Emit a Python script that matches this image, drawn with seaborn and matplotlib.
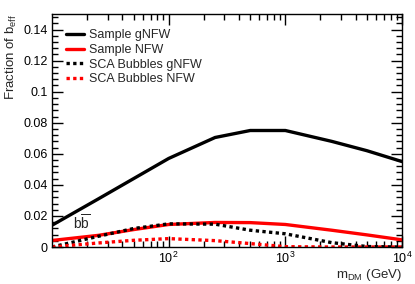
import matplotlib
matplotlib.use("Agg")
import matplotlib.pyplot as plt
import matplotlib.ticker as mticker
import numpy as np
import pandas as pd
import seaborn as sns

# masses (GeV) and fraction of b_eff per series
mass = [10, 25, 50, 100, 250, 500, 1000, 2500, 5000, 10000]
sample_gnfw = [0.014, 0.031, 0.044, 0.057, 0.0705, 0.075, 0.075, 0.068, 0.062, 0.055]
sample_nfw = [0.0042, 0.0075, 0.0112, 0.0145, 0.0158, 0.0157, 0.0145, 0.0108, 0.0078, 0.0046]
bubbles_gnfw = [0.0, 0.0069, 0.0119, 0.0149, 0.0147, 0.0108, 0.0085, 0.0028, 0.0003, 0.0]
bubbles_nfw = [0.0, 0.0026, 0.0043, 0.0054, 0.0041, 0.0022, 0.0002, 0.0, 0.0, 0.0]

series = ["Sample gNFW", "Sample NFW", "SCA Bubbles gNFW", "SCA Bubbles NFW"]
colors = ["black", "red", "black", "red"]
styles = ["-", "-", ":", ":"]

sns.set_style("ticks")
plt.rcParams["font.family"] = ["Liberation Sans", "DejaVu Sans"]
plt.rcParams["mathtext.fontset"] = "custom"
plt.rcParams["mathtext.rm"] = "Liberation Sans"
plt.rcParams["mathtext.it"] = "Liberation Sans"

df = pd.DataFrame({
    "mass": mass * 4,
    "frac": sample_gnfw + sample_nfw + bubbles_gnfw + bubbles_nfw,
    "series": sum([[s] * len(mass) for s in series], []),
})

fig = plt.figure(figsize=(4.15, 2.84), dpi=100)
ax = fig.add_axes([52 / 415, 1 - 247 / 284, 350 / 415, 233 / 284])

for s, c, ls in zip(series, colors, styles):
    sub = df[df["series"] == s]
    sns.lineplot(data=sub, x="mass", y="frac", ax=ax, color=c, lw=2.4,
                 label=s, estimator=None)
    line = ax.lines[-1]
    if ls == ":":
        line.set_dashes((1, 1))

ax.set_xscale("log")
ax.set_xlim(10, 10000)
ax.set_ylim(0, 0.15)

ax.yaxis.set_major_locator(mticker.MultipleLocator(0.02))
ax.yaxis.set_minor_locator(mticker.MultipleLocator(0.004))
ax.yaxis.set_major_formatter(mticker.FuncFormatter(lambda v, p: "0" if v == 0 else f"{v:g}"))
ax.xaxis.set_major_locator(mticker.FixedLocator([100, 1000, 10000]))
ax.xaxis.set_major_formatter(mticker.FuncFormatter(lambda v, p: f"$10^{{{int(round(np.log10(v)))}}}$"))
ax.xaxis.set_minor_locator(mticker.LogLocator(base=10, subs=np.arange(2, 10)))
ax.xaxis.set_minor_formatter(mticker.NullFormatter())

ax.tick_params(which="both", direction="in", top=True, right=True, labelsize=9, width=1, colors="black")
ax.tick_params(which="major", length=8)
ax.tick_params(which="minor", length=4)
ax.tick_params(axis="x", which="major", pad=3)
ax.tick_params(axis="y", which="major", pad=3)
for sp in ax.spines.values():
    sp.set_linewidth(1)
    sp.set_color("black")

ax.set_xlabel(r"m$_{\rm DM}$ (GeV)", fontsize=9.5, ha="right")
ax.xaxis.set_label_coords(1.0, -0.085)
ax.set_ylabel(r"Fraction of b$_{\rm eff}$", fontsize=9.5, ha="right")
ax.yaxis.set_label_coords(-0.095, 1.0)

ax.text(15, 0.0115, r"b$\overline{\rm b}$", fontsize=10)

leg = ax.legend(loc="upper left", bbox_to_anchor=(0.04, 0.935), frameon=False, fontsize=9,
                handlelength=1.4, handletextpad=0.4, labelspacing=0.22,
                borderaxespad=0, borderpad=0)

fig.savefig("out.png", dpi=100)
